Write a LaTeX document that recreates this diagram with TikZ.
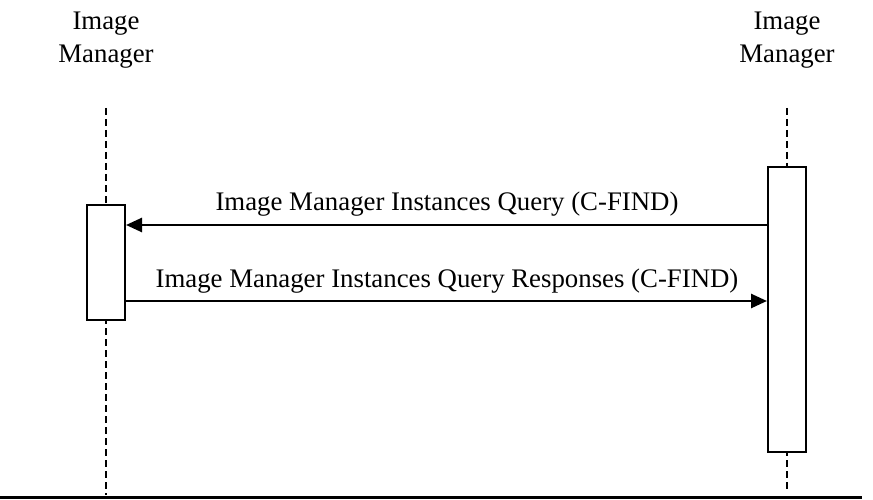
\documentclass[tikz,border=0pt]{standalone}
\usepackage{fontspec}
\setmainfont{Liberation Serif}
\usetikzlibrary{arrows.meta}
\begin{document}
\begin{tikzpicture}[x=1pt,y=-1pt,
  lbl/.style={font=\fontsize{26.8}{33}\selectfont, inner sep=0pt, align=center},
  life/.style={line width=1.5pt, dash pattern=on 7pt off 4pt},
  actbox/.style={draw, line width=2pt, fill=white, minimum width=38pt, inner sep=0pt},
  msg/.style={line width=2.6pt, -{Triangle[length=16pt,width=14pt]}}]
\useasboundingbox (0,0) rectangle (873,500);
\node[lbl, anchor=north] (hA) at (106,11.7) {Image\\Manager};
\node[lbl, anchor=north] (hB) at (787,11.7) {Image\\Manager};
\coordinate (a0) at (106,108);
\coordinate (a1) at (106,495);
\coordinate (b0) at (787,108);
\coordinate (b1) at (787,490);
\draw[life] (a0) -- (a1);
\draw[life] (b0) -- (b1);
\node[actbox, minimum height=115pt] (boxA) at (106,262.5) {};
\node[actbox, minimum height=285pt] (boxB) at (787,309.5) {};
\coordinate (q1) at (boxB.west |- 0,225);
\coordinate (q2) at (boxA.east |- 0,225);
\coordinate (r1) at (boxA.east |- 0,301);
\coordinate (r2) at (boxB.west |- 0,301);
\draw[msg] (q1) -- (q2);
\draw[msg] (r1) -- (r2);
\node[lbl, anchor=base] (tq) at (447,211) {Image Manager Instances Query (C-FIND)};
\node[lbl, anchor=base] (tr) at (447,287) {Image Manager Instances Query Responses (C-FIND)};
\coordinate (l0) at (0,497.5);
\coordinate (l1) at (862,497.5);
\draw[line width=2.2pt] (l0) -- (l1);
\end{tikzpicture}
\end{document}
